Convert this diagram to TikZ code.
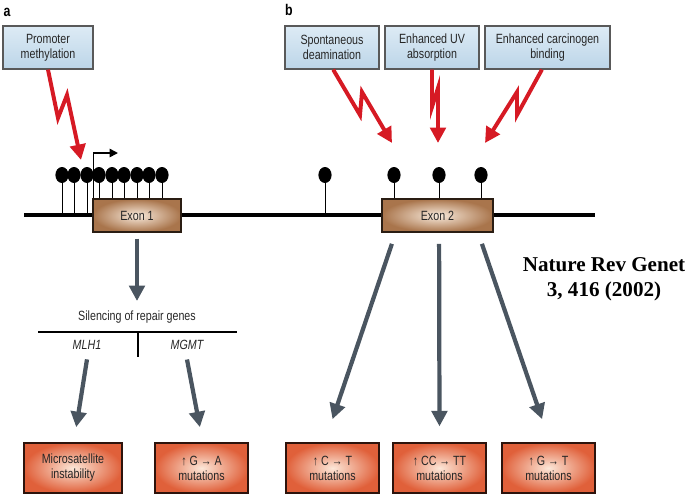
\documentclass[tikz,border=0pt]{standalone}
\usepackage{fontspec}
\setmainfont{Liberation Sans}[FakeStretch=0.8]
\newfontfamily\citefont{Liberation Serif}
\usetikzlibrary{arrows.meta}
\definecolor{skytop}{HTML}{DDEBF5}
\definecolor{skybot}{HTML}{BCD5E8}
\definecolor{exonout}{HTML}{A9754C}
\definecolor{exonin}{HTML}{F9EBDD}
\definecolor{hitout}{HTML}{E0603A}
\definecolor{hitin}{HTML}{FCE7D8}
\definecolor{zapred}{HTML}{D61A24}
\definecolor{slate}{HTML}{4A5560}
\tikzset{
	txt/.style={font=\fontsize{9.5}{10.7}\selectfont, text=black!85},
	panel/.style={font=\bfseries\fontsize{11}{12}\selectfont},
	trigger/.style={txt, draw=black!65, line width=0.9pt, top color=skytop, bottom color=skybot, minimum height=1.075cm, align=center, inner sep=1pt},
	exon/.style={txt, draw=black!75!exonout, line width=0.9pt, inner color=exonin, outer color=exonout, minimum height=0.825cm},
	outcome/.style={txt, draw=black!80!hitout, line width=0.9pt, inner color=hitin, outer color=hitout, minimum height=1.25cm, minimum width=2.325cm, align=center, inner sep=1pt},
	zap/.style={zapred, line width=2.8pt, line join=miter, -{Triangle[length=11pt,width=11pt]}},
	push/.style={slate, line width=3pt, -{Triangle[length=11pt,width=11pt]}},
	stem/.style={black, line width=0.6pt}
}
\begin{document}
\begin{tikzpicture}[x=0.025cm,y=-0.025cm]
	\useasboundingbox (0,0) rectangle (686,496);
	\node[panel] (pa) at (7,12) {a};
	\node[panel] (pb) at (289,10) {b};
	
%triggers
	\node[trigger, minimum width=2.25cm] (promoter) at (48,47.5) {Promoter\\methylation};
	\node[trigger, minimum width=2.35cm] (spont) at (332,47.5) {Spontaneous\\deamination};
	\node[trigger, minimum width=2.35cm] (uvabs) at (432,47.5) {Enhanced UV\\absorption};
	\node[trigger, minimum width=3.125cm] (carcino) at (547.5,47.5) {Enhanced carcinogen\\binding};
	
%gene
	\draw[black, line width=3pt] (24,215)--(595,215);
	\foreach \x in {62,74,87,99,112,124,137,149,162,325,394,439,481}
	{\draw[stem] (\x,175)--(\x,215);}
	\node[exon, minimum width=2.2cm] (exonA) at (137,215.5) {Exon 1};
	\node[exon, minimum width=2.775cm] (exonB) at (437.5,215.5) {Exon 2};
	\foreach \x in {62,74,87,99,112,124,137,149,162,325,394,439,481}
	{\fill (\x,175) ellipse [x radius=0.165cm, y radius=0.2cm];}
	\coordinate (tss) at (118,153);
	\draw[line width=1.1pt, -{Triangle[length=6pt,width=6pt]}] ([xshift=0.03cm]exonA.north west) |- (tss);
	
%red hits
	\coordinate (hitA) at (81,160);
	\coordinate (hitB) at (392,143);
	\coordinate (hitC) at (438,143);
	\coordinate (hitD) at (485,143);
	\draw[zap] (promoter.south)--(58,118)--(67,95)--(hitA);
	\draw[zap] ([xshift=0.03cm]spont.south)--(360,115)--(362,92)--(hitB);
	\draw[zap] (uvabs.south)--(432,107)--(438,88)--(hitC);
	\draw[zap] ([xshift=-0.14cm]carcino.south)--(517,115)--(517,92)--(hitD);
	
%outcomes
	\node[txt] (silencing) at (137,317) {Silencing of repair genes};
	\draw[line width=1.1pt] (38,332)--(237,332);
	\draw[line width=1.1pt] (138,332)--(138,357);
	\node[txt, font=\itshape\fontsize{9.5}{10.7}\selectfont] (mlh) at (87,345) {MLH1};
	\node[txt, font=\itshape\fontsize{9.5}{10.7}\selectfont] (mgmt) at (187,345) {MGMT};
	\node[outcome, minimum width=2.45cm] (msi) at (73,468) {Microsatellite\\instability};
	\node[outcome] (gamut) at (201.5,468) {↑ G → A\\mutations};
	\node[outcome] (ctmut) at (332.5,468) {↑ C → T\\mutations};
	\node[outcome] (cctt) at (439.5,468) {↑ CC → TT\\mutations};
	\node[outcome] (gtmut) at (548.5,468) {↑ G → T\\mutations};
	
	\draw[push] ([yshift=-0.15cm]exonA.south)--([yshift=0.12cm]silencing.north);
	\draw[push] ([yshift=-0.12cm]mlh.south)--([xshift=0.08cm,yshift=0.38cm]msi.north);
	\draw[push] ([yshift=-0.12cm]mgmt.south)--([xshift=-0.04cm,yshift=0.38cm]gamut.north);
	\draw[push] ([xshift=-1.14cm,yshift=-0.28cm]exonB.south)--([yshift=0.58cm]ctmut.north);
	\draw[push] ([xshift=0.04cm,yshift=-0.28cm]exonB.south)--([yshift=0.4cm]cctt.north);
	\draw[push] ([xshift=1.11cm,yshift=-0.28cm]exonB.south)--([xshift=-0.16cm,yshift=0.58cm]gtmut.north);
	
	\node[font=\citefont\bfseries\fontsize{15}{17.8}\selectfont, align=center] (cite) at (604,279.5) {Nature Rev Genet\\3, 416 (2002)};
\end{tikzpicture}
\end{document}
